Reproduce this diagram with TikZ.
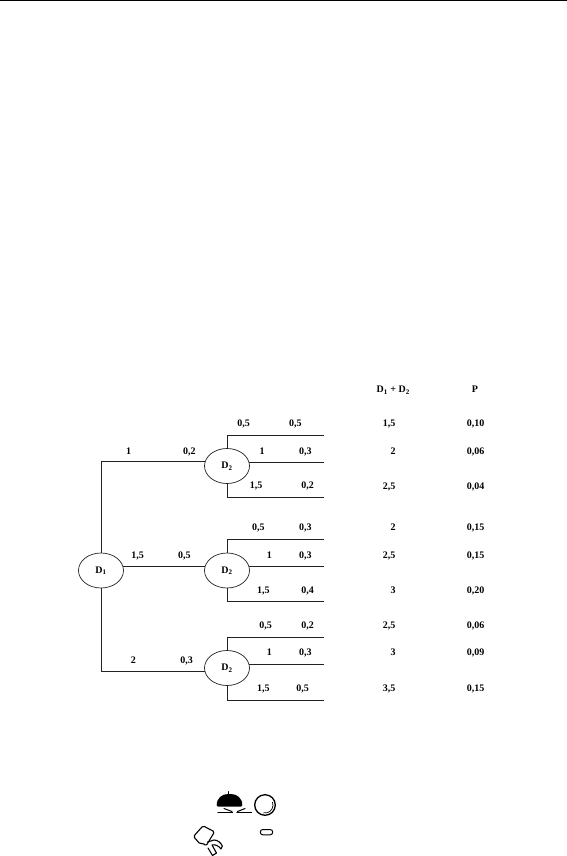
\documentclass[tikz,border=0pt]{standalone}
\usepackage{fontspec}
\setmainfont{Liberation Serif}
\usetikzlibrary{shapes.geometric}
\definecolor{treeInk}{HTML}{222222}
\tikzset{
  tree line/.style={draw=treeInk, line width=0.7pt},
  tree chance/.style={ellipse, draw=treeInk, fill=white, line width=0.7pt, minimum width=45pt, minimum height=35pt, inner sep=0pt, font=\fontsize{10}{12}\selectfont\bfseries, text=black},
  tree label/.style={inner sep=0pt, text height=7pt, text depth=2pt, yshift=-0.7pt, font=\fontsize{10}{12}\selectfont\bfseries, text=black},
  art line/.style={draw=black, line width=1pt, line join=round, line cap=round},
}
\begin{document}
\begin{tikzpicture}[x=1pt,y=-1pt]
\useasboundingbox(0,0)rectangle(567,856);
\fill[black](0,0)rectangle(567,1);
\node[tree chance](dOne)at(101,570.5){D\textsubscript{1}};
\node[tree chance](dTwoA)at(227,466){D\textsubscript{2}};\node[tree chance](dTwoB)at(227,570.5){D\textsubscript{2}};\node[tree chance](dTwoC)at(227,668){D\textsubscript{2}};
\coordinate(endAa)at(323.5,435);\coordinate(endAc)at(323.5,497);
\coordinate(endBa)at(323.5,539);\coordinate(endBc)at(323.5,601);
\coordinate(endCa)at(323.5,637);\coordinate(endCc)at(323.5,700);
\draw[tree line](dOne.north)|-(dTwoA.169.7);\draw[tree line](dOne.10.3)--(dOne.10.3-|dTwoB.169.7);\draw[tree line](dOne.south)|-(dTwoC.188);
\draw[tree line](dTwoA.north)|-(endAa);\draw[tree line](dTwoA.10.3)--(dTwoA.10.3-|endAa);\draw[tree line](dTwoA.south)|-(endAc);
\draw[tree line](dTwoB.north)|-(endBa);\draw[tree line](dTwoB.10.3)--(dTwoB.10.3-|endBa);\draw[tree line](dTwoB.south)|-(endBc);
\draw[tree line](dTwoC.north)|-(endCa);\draw[tree line](dTwoC.10.3)--(dTwoC.10.3-|endCa);\draw[tree line](dTwoC.south)|-(endCc);
\node[tree label](probOneA)at(128.7,451.3){1};\node[tree label](probOneAp)at(189.3,451.3){0,2};
\node[tree label](probOneB)at(137.7,555.7){1,5};\node[tree label](probOneBp)at(184.3,555.7){0,5};
\node[tree label](probOneC)at(133.3,660.3){2};\node[tree label](probOneCp)at(186.7,660.3){0,3};
\node[tree label](valAa)at(243.7,423.3){0,5};\node[tree label](valAap)at(295.3,423.3){0,5};
\node[tree label](valAb)at(262,451.3){1};\node[tree label](valAbp)at(305.3,451.3){0,3};
\node[tree label](valAc)at(256,485.7){1,5};\node[tree label](valAcp)at(307.7,485.7){0,2};
\node[tree label](valBa)at(258.3,527.7){0,5};\node[tree label](valBap)at(305.3,527.7){0,3};
\node[tree label](valBb)at(269.3,555.7){1};\node[tree label](valBbp)at(305.3,555.7){0,3};
\node[tree label](valBc)at(263.3,590.7){1,5};\node[tree label](valBcp)at(307.7,590.7){0,4};
\node[tree label](valCa)at(265.7,625.7){0,5};\node[tree label](valCap)at(307.7,625.7){0,2};
\node[tree label](valCb)at(269.3,652.7){1};\node[tree label](valCbp)at(305.3,652.7){0,3};
\node[tree label](valCc)at(263.3,688.3){1,5};\node[tree label](valCcp)at(302.7,688.3){0,5};
\node[tree label](headSum)at(393.3,389.3){D\textsubscript{1} + D\textsubscript{2}};\node[tree label](headP)at(475,389.3){P};
\node[tree label](sumAa)at(389,423.5){1,5};\node[tree label](pAa)at(475.7,423.5){0,10};
\node[tree label](sumAb)at(393,451.5){2};\node[tree label](pAb)at(475.7,451.5){0,06};
\node[tree label](sumAc)at(389,486){2,5};\node[tree label](pAc)at(475.7,486){0,04};
\node[tree label](sumBa)at(393,527.7){2};\node[tree label](pBa)at(475.7,527.7){0,15};
\node[tree label](sumBb)at(389,555.7){2,5};\node[tree label](pBb)at(475.7,555.7){0,15};
\node[tree label](sumBc)at(393,590.7){3};\node[tree label](pBc)at(475.7,590.7){0,20};
\node[tree label](sumCa)at(389,625.7){2,5};\node[tree label](pCa)at(475.7,625.7){0,06};
\node[tree label](sumCb)at(393,652.7){3};\node[tree label](pCb)at(475.7,652.7){0,09};
\node[tree label](sumCc)at(389,688.3){3,5};\node[tree label](pCc)at(475.7,688.3){0,15};
\fill[black,rounded corners=1.5pt](216.7,806.7)..controls(216.7,798)and(222,794)..(229.5,794)..controls(237,794)and(242.3,798)..(242.3,806.7)--cycle;
\draw[art line](228.3,791.5)--(228.3,794);
\draw[art line,line width=1.3pt](218,812.3)--(232.5,812.3);\draw[art line,line width=1.3pt](237,812.3)--(251.5,812.3);
\draw[art line](224,808.5)--(232,811.5);\draw[art line](245,808.5)--(237.5,811.5);
\draw[art line,line width=1.3pt](265,805)circle[radius=10.3];
\draw[art line,line width=0.7pt](272.5,802.3)arc[start angle=-20,end angle=100,radius=8];
\draw[art line,line width=1pt,rounded corners=2.5pt](260.3,829.5)rectangle(272.7,834.8);
\draw[art line,line width=1.1pt,rounded corners=1.5pt](203,825.8)--(214.5,831.8)--(206,846)--(203,843)--(200,844)--(193.5,836.5)--cycle;
\draw[art line,line width=1.1pt](207.5,842)--(214,840)..controls(218,840)and(221,843)..(222.3,846)--(221,849)..controls(219,846)and(215,844)..(212,845)--(216.5,853)--(212.5,855.5)--(208,848);
\end{tikzpicture}
\end{document}
